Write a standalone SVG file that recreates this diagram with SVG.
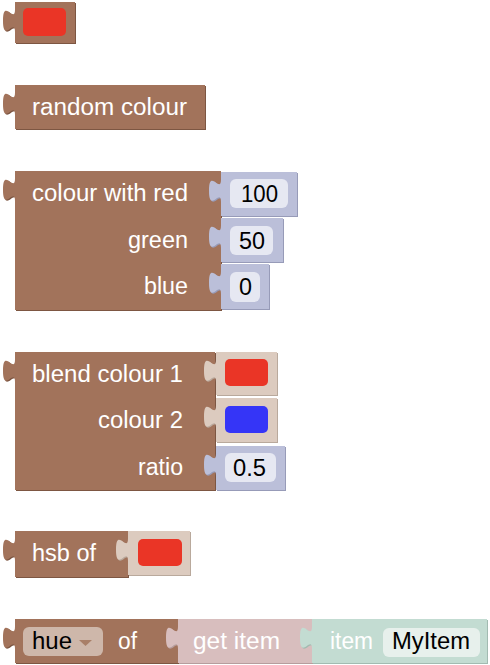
<svg xmlns="http://www.w3.org/2000/svg" width="490" height="665" viewBox="0 0 490 665">
<defs>
<style>
.br{fill:#a2735b}
.brs{fill:#7d5642}
.nb{fill:#bbbfd9}
.nbs{fill:#979bb8}
.cb{fill:#dccbbf}
.cbs{fill:#b9a99c}
.gb{fill:#d8bebe}
.gbs{fill:#b69d9d}
.ib{fill:#c3dcd2}
.ibs{fill:#a2bbb1}
.nf{fill:#e6e8f2}
.red{fill:#ea3526}
.blue{fill:#3535f7}
text{font-family:"Liberation Sans",Arial,Helvetica,sans-serif;font-size:23.5px}
.w{fill:#ffffff}
.k{fill:#000000}
</style>
</defs>
<rect width="490" height="665" fill="#ffffff"/>

<g id="colour-picker">
<path class="brs" transform="translate(1,1)" d="M15,2 H75 V43 H15 V32 c0,-15 -12,12 -12,-11.25 s12,3.75 12,-11.25 Z"/>
<path class="br" d="M15,2 H75 V43 H15 V32 c0,-15 -12,12 -12,-11.25 s12,3.75 12,-11.25 Z"/>
<rect class="red" x="23" y="8" width="43" height="28" rx="5"/>
</g>

<g id="random-colour">
<path class="brs" transform="translate(1,1)" d="M15,85 H205 V129 H15 V115 c0,-15 -12,12 -12,-11.25 s12,3.75 12,-11.25 Z"/>
<path class="br" d="M15,85 H205 V129 H15 V115 c0,-15 -12,12 -12,-11.25 s12,3.75 12,-11.25 Z"/>
<text class="w" x="32" y="115" textLength="155" lengthAdjust="spacingAndGlyphs">random colour</text>
</g>

<g id="colour-rgb">
<path class="brs" transform="translate(1,1)" d="M15,171 H221 V310 H15 V201 c0,-15 -12,12 -12,-11.25 s12,3.75 12,-11.25 Z"/>
<path class="br" d="M15,171 H221 V310 H15 V201 c0,-15 -12,12 -12,-11.25 s12,3.75 12,-11.25 Z"/>
<text class="w" x="32" y="201" textLength="156" lengthAdjust="spacingAndGlyphs">colour with red</text>
<text class="w" x="128" y="248" textLength="60" lengthAdjust="spacingAndGlyphs">green</text>
<text class="w" x="144" y="294" textLength="44" lengthAdjust="spacingAndGlyphs">blue</text>
</g>
<g id="num-100">
<path class="nbs" transform="translate(1,1)" d="M221,172 H297 V216 H221 V202 c0,-15 -12,12 -12,-11.25 s12,3.75 12,-11.25 Z"/>
<path class="nb" d="M221,172 H297 V216 H221 V202 c0,-15 -12,12 -12,-11.25 s12,3.75 12,-11.25 Z"/>
<rect class="nf" x="230" y="179" width="58" height="29" rx="6"/>
<text class="k" x="241" y="201.5" textLength="37" lengthAdjust="spacingAndGlyphs">100</text>
</g>
<g id="num-50">
<path class="nbs" transform="translate(1,1)" d="M221,218 H283 V262 H221 V248 c0,-15 -12,12 -12,-11.25 s12,3.75 12,-11.25 Z"/>
<path class="nb" d="M221,218 H283 V262 H221 V248 c0,-15 -12,12 -12,-11.25 s12,3.75 12,-11.25 Z"/>
<rect class="nf" x="230" y="226" width="43" height="29" rx="6"/>
<text class="k" x="239" y="248.5" textLength="26" lengthAdjust="spacingAndGlyphs">50</text>
</g>
<g id="num-0">
<path class="nbs" transform="translate(1,1)" d="M221,264 H269 V309 H221 V294 c0,-15 -12,12 -12,-11.25 s12,3.75 12,-11.25 Z"/>
<path class="nb" d="M221,264 H269 V309 H221 V294 c0,-15 -12,12 -12,-11.25 s12,3.75 12,-11.25 Z"/>
<rect class="nf" x="230" y="272" width="30" height="30" rx="6"/>
<text class="k" x="239" y="295" textLength="13" lengthAdjust="spacingAndGlyphs">0</text>
</g>

<g id="colour-blend">
<path class="brs" transform="translate(1,1)" d="M15,352 H215 V490 H15 V382 c0,-15 -12,12 -12,-11.25 s12,3.75 12,-11.25 Z"/>
<path class="br" d="M15,352 H215 V490 H15 V382 c0,-15 -12,12 -12,-11.25 s12,3.75 12,-11.25 Z"/>
<text class="w" x="32" y="382" textLength="151" lengthAdjust="spacingAndGlyphs">blend colour 1</text>
<text class="w" x="98" y="428" textLength="85" lengthAdjust="spacingAndGlyphs">colour 2</text>
<text class="w" x="138" y="475" textLength="45" lengthAdjust="spacingAndGlyphs">ratio</text>
</g>
<g id="blend-colour1">
<path class="cbs" transform="translate(1,1)" d="M216,352 H277 V395 H216 V382 c0,-15 -12,12 -12,-11.25 s12,3.75 12,-11.25 Z"/>
<path class="cb" d="M216,352 H277 V395 H216 V382 c0,-15 -12,12 -12,-11.25 s12,3.75 12,-11.25 Z"/>
<rect class="red" x="225" y="359" width="43" height="27" rx="5"/>
</g>
<g id="blend-colour2">
<path class="cbs" transform="translate(1,1)" d="M216,398 H277 V442 H216 V428 c0,-15 -12,12 -12,-11.25 s12,3.75 12,-11.25 Z"/>
<path class="cb" d="M216,398 H277 V442 H216 V428 c0,-15 -12,12 -12,-11.25 s12,3.75 12,-11.25 Z"/>
<rect class="blue" x="225" y="406" width="43" height="27" rx="5"/>
</g>
<g id="num-ratio">
<path class="nbs" transform="translate(1,1)" d="M216,446 H285 V490 H216 V476 c0,-15 -12,12 -12,-11.25 s12,3.75 12,-11.25 Z"/>
<path class="nb" d="M216,446 H285 V490 H216 V476 c0,-15 -12,12 -12,-11.25 s12,3.75 12,-11.25 Z"/>
<rect class="nf" x="225" y="453" width="51" height="29" rx="6"/>
<text class="k" x="233" y="475.5" textLength="33" lengthAdjust="spacingAndGlyphs">0.5</text>
</g>

<g id="hsb-of">
<path class="brs" transform="translate(1,1)" d="M15,531 H128 V577 H15 V561 c0,-15 -12,12 -12,-11.25 s12,3.75 12,-11.25 Z"/>
<path class="br" d="M15,531 H128 V577 H15 V561 c0,-15 -12,12 -12,-11.25 s12,3.75 12,-11.25 Z"/>
<text class="w" x="32" y="561" textLength="64" lengthAdjust="spacingAndGlyphs">hsb of</text>
</g>
<g id="hsb-colour">
<path class="cbs" transform="translate(1,1)" d="M128,531 H190 V575 H128 V561 c0,-15 -12,12 -12,-11.25 s12,3.75 12,-11.25 Z"/>
<path class="cb" d="M128,531 H190 V575 H128 V561 c0,-15 -12,12 -12,-11.25 s12,3.75 12,-11.25 Z"/>
<rect class="red" x="138" y="539" width="44" height="27" rx="5"/>
</g>

<g id="hue-of">
<path class="brs" transform="translate(1,1)" d="M15,619 H178 V663 H15 V649 c0,-15 -12,12 -12,-11.25 s12,3.75 12,-11.25 Z"/>
<path class="br" d="M15,619 H178 V663 H15 V649 c0,-15 -12,12 -12,-11.25 s12,3.75 12,-11.25 Z"/>
<rect x="23" y="627" width="80" height="29" rx="6" fill="#ceb7aa"/>
<text class="k" x="32" y="649" textLength="40" lengthAdjust="spacingAndGlyphs">hue</text>
<path d="M79,640 H92 L85.5,646 Z" fill="#a97f68"/>
<text class="w" x="118" y="649" textLength="19" lengthAdjust="spacingAndGlyphs">of</text>
</g>
<g id="get-item">
<path class="gbs" transform="translate(1,1)" d="M178,619 H312 V663 H178 V649 c0,-15 -12,12 -12,-11.25 s12,3.75 12,-11.25 Z"/>
<path class="gb" d="M178,619 H312 V663 H178 V649 c0,-15 -12,12 -12,-11.25 s12,3.75 12,-11.25 Z"/>
<text class="w" x="193" y="649" textLength="87" lengthAdjust="spacingAndGlyphs">get item</text>
</g>
<g id="item">
<path class="ibs" transform="translate(1,1)" d="M312,619 H487 V663 H312 V649 c0,-15 -12,12 -12,-11.25 s12,3.75 12,-11.25 Z"/>
<path class="ib" d="M312,619 H487 V663 H312 V649 c0,-15 -12,12 -12,-11.25 s12,3.75 12,-11.25 Z"/>
<text class="w" x="330" y="649" textLength="43" lengthAdjust="spacingAndGlyphs">item</text>
<rect x="383" y="628" width="97" height="29" rx="6" fill="#e7f0ec"/>
<text class="k" x="392" y="649" textLength="78" lengthAdjust="spacingAndGlyphs">MyItem</text>
</g>
<g id="connectors"/>
</svg>
